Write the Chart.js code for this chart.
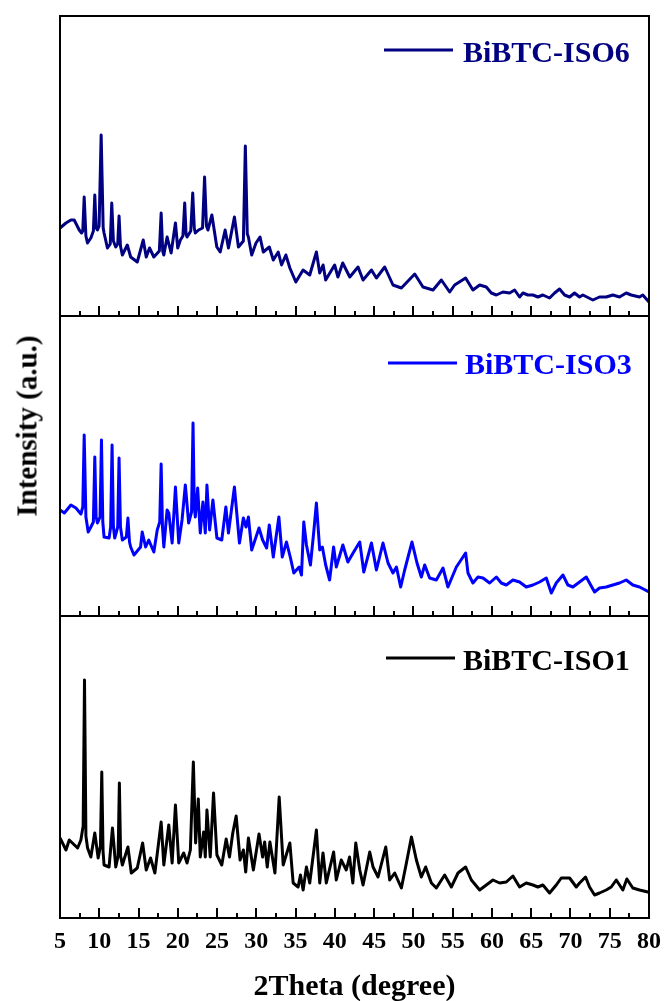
<!DOCTYPE html>
<html>
<head>
<meta charset="utf-8">
<script src="https://cdn.jsdelivr.net/npm/chart.js"></script>
<style>
  html, body { margin: 0; padding: 0; background: #ffffff; }
  #wrap { position: relative; width: 664px; height: 1001px; overflow: hidden; background: #ffffff; }
  .panel { position: absolute; left: 0; width: 664px; }
  #ytitle {
    position: absolute; left: 27px; top: 426px;
    transform: translate(-50%, -50%) rotate(-90deg);
    font: bold 29px "Liberation Serif", "Times New Roman", serif;
    white-space: nowrap; color: #000000; line-height: 1;
  }
</style>
</head>
<body>
<div id="wrap">
  <div class="panel" style="top:0px;height:320px"><canvas id="c1" width="664" height="320"></canvas></div>
  <div class="panel" style="top:312px;height:308px"><canvas id="c2" width="664" height="308"></canvas></div>
  <div class="panel" style="top:612px;height:389px"><canvas id="c3" width="664" height="389"></canvas></div>
  <div id="ytitle">Intensity (a.u.)</div>
</div>
<script>
// ---------------- DATA ----------------
const seriesLabels = ['BiBTC-ISO6', 'BiBTC-ISO3', 'BiBTC-ISO1'];
const xTickLabels = [5, 10, 15, 20, 25, 30, 35, 40, 45, 50, 55, 60, 65, 70, 75, 80];

// BiBTC-ISO6 (top panel)
const iso6Angle = [5.0,5.76,6.39,6.81,7.45,7.75,7.9,8.08,8.3,8.5,8.93,9.25,9.43,9.6,9.77,9.98,10.24,10.5,10.61,11.04,11.4,11.59,11.8,12.1,12.35,12.52,12.7,12.94,13.57,14.0,14.84,15.6,15.98,16.4,16.95,17.65,17.88,18.08,18.22,18.64,19.15,19.7,19.99,20.33,20.65,20.88,21.05,21.18,21.65,21.9,22.1,22.23,22.65,23.15,23.41,23.65,23.84,24.34,24.97,25.4,26.03,26.45,27.21,27.72,28.35,28.6,28.85,28.99,29.41,29.96,30.47,30.89,31.65,32.16,32.79,33.21,33.76,34.27,35.03,35.95,36.8,37.65,38.07,38.5,38.83,39.97,40.39,41.0,41.9,42.95,43.59,44.66,45.29,46.35,47.4,48.47,50.17,51.22,52.5,53.56,54.62,55.25,56.65,
  57.58,58.44,59.28,59.92,60.56,61.4,62.25,62.89,63.52,63.95,64.58,65.22,65.85,66.49,67.34,67.98,68.61,69.25,69.89,70.52,71.16,71.58,72.85,73.7,74.55,75.4,76.25,77.1,77.73,78.79,79.21,80.0];
const iso6Intensity = [88,93,96,96,86,83,85,119,80,73,78,85,121,88,86,90,181,88,83,68,72,113,75,69,72,100,70,61,71,59,54,76,59,68,59,65,103,65,61,79,63,93,68,76,80,113,82,79,85,123,88,83,86,88,139,90,86,101,69,64,86,68,99,69,75,170,82,79,61,73,79,64,69,56,64,51,61,48,34,46,41,64,43,51,36,51,39,53,39,49,36,46,38,49,31,28,42,29,26,36,24,31,38,
  26,31,29,23,21,24,23,26,19,23,21,21,19,21,18,23,27,21,19,23,19,21,16,19,19,21,19,23,21,19,21,14];

// BiBTC-ISO3 (middle panel)
const iso3Angle = [5.0,5.55,6.39,7.03,7.66,7.9,8.08,8.3,8.59,8.93,9.25,9.43,9.6,9.77,10.1,10.28,10.45,10.61,11.25,11.45,11.63,11.8,11.97,12.35,12.52,12.7,12.94,13.45,13.65,13.85,14.0,14.42,15.26,15.47,15.9,16.3,16.95,17.38,17.7,17.88,18.05,18.22,18.64,18.85,19.28,19.7,20.12,20.54,20.96,21.38,21.75,21.94,22.1,22.23,22.53,22.86,23.2,23.5,23.71,24.05,24.47,24.98,25.6,26.12,26.45,27.21,27.85,28.35,28.69,28.99,29.41,30.34,30.8,31.31,31.65,32.16,32.87,33.3,33.84,34.35,34.77,35.45,35.75,36.04,36.38,36.89,37.31,37.65,38.07,38.41,38.83,39.33,39.84,40.18,41.02,41.66,42.32,43.17,43.68,44.66,45.29,46.13,46.77,47.4,47.84,48.38,48.89,49.82,50.46,51.01,51.44,52.07,52.92,53.77,54.4,55.47,56.65,56.95,
  57.58,58.22,58.86,59.71,60.56,61.19,61.83,62.67,63.52,64.37,65.22,66.07,66.92,67.56,68.19,69.04,69.67,70.31,71.16,72.01,73.07,73.7,74.55,75.4,76.25,77.1,77.94,78.79,80.0];
const iso3Intensity = [107,104,112,109,103,110,182,100,85,90,95,160,100,94,100,177,95,80,79,90,172,90,79,90,159,90,77,80,99,75,70,62,70,85,70,77,65,87,95,153,90,70,107,104,74,130,74,97,132,94,105,194,110,100,129,84,115,84,132,87,117,79,77,110,84,130,74,99,90,100,67,89,77,69,92,60,100,60,75,59,44,50,42,95,72,52,85,114,67,70,52,37,70,50,72,55,64,75,45,74,47,74,54,44,50,30,47,75,54,40,52,39,37,49,30,50,64,44,
  34,40,39,34,40,34,32,37,35,30,32,35,39,24,34,42,32,30,35,40,25,29,30,32,34,37,32,30,25];

// BiBTC-ISO1 (bottom panel)
const iso1Angle = [5.0,5.76,6.18,7.24,7.66,7.95,8.12,8.3,8.51,8.93,9.43,9.86,10.15,10.32,10.48,10.61,11.25,11.68,12.1,12.4,12.56,12.72,12.94,13.65,14.08,14.84,15.52,15.98,16.53,17.08,17.88,18.22,18.85,19.28,19.7,20.12,20.75,21.18,21.6,21.98,22.27,22.61,22.86,23.29,23.5,23.71,24.13,24.55,24.98,25.6,26.16,26.58,27.0,27.43,27.93,28.35,28.65,28.99,29.62,30.34,30.8,31.06,31.39,31.73,32.37,32.91,33.42,34.27,34.69,35.32,35.62,35.96,36.38,36.8,37.65,38.07,38.49,38.91,39.84,40.18,40.81,41.45,41.87,42.29,42.66,43.17,43.59,44.44,44.86,45.5,46.48,46.98,47.62,48.47,49.11,49.75,50.38,51.01,51.56,52.29,52.92,53.98,54.83,55.68,56.65,57.38,58.44,
  60.13,60.98,61.83,62.67,63.52,64.37,65.22,65.85,66.49,67.34,68.19,68.83,69.89,70.74,71.16,71.92,72.43,73.07,73.7,74.55,75.19,75.83,76.67,77.18,77.94,78.79,79.85,80.0];
const iso1Intensity = [78,66,76,68,76,90,236,80,68,59,83,58,70,144,65,51,49,88,49,60,133,60,51,69,43,48,73,46,58,43,94,51,91,53,111,53,63,53,66,154,73,117,59,84,59,106,59,123,61,51,77,59,83,100,56,66,44,78,46,82,59,74,49,74,43,119,51,73,33,29,41,26,49,33,86,33,63,33,64,36,56,46,59,33,73,46,31,64,49,39,69,36,43,28,53,79,56,39,49,33,28,41,29,43,49,36,26,
  36,33,34,40,29,33,31,29,31,23,31,38,38,29,33,39,29,21,23,26,29,36,26,37,28,26,24,24];

// ---------------- RENDERING ----------------
const SERIF = '"Liberation Serif", "Times New Roman", serif';

const framePlugin = {
  id: 'panelFrame',
  afterDatasetsDraw(chart, args, opts) {
    const { ctx, chartArea: a } = chart;
    const x = chart.scales.x;
    ctx.save();
    // frame
    ctx.strokeStyle = '#000000';
    ctx.lineWidth = 2;
    ctx.strokeRect(a.left, a.top, a.right - a.left, a.bottom - a.top);
    // inward ticks on the bottom edge (major every 5, minor every 2.5)
    ctx.beginPath();
    for (let i = 0; i <= 30; i++) {
      const v = x.min + i * 2.5;
      const px = Math.round(x.getPixelForValue(v));
      const len = (i % 2 === 0) ? 10 : 5;
      ctx.moveTo(px, a.bottom);
      ctx.lineTo(px, a.bottom - len);
    }
    ctx.stroke();
    // legend entry inside the panel
    const ds = chart.data.datasets[0];
    ctx.strokeStyle = ds.borderColor;
    ctx.lineWidth = 3;
    ctx.beginPath();
    ctx.moveTo(opts.lineX1, a.top + opts.lineDy);
    ctx.lineTo(opts.lineX2, a.top + opts.lineDy);
    ctx.stroke();
    ctx.fillStyle = ds.borderColor;
    ctx.font = 'bold 30px ' + SERIF;
    ctx.textAlign = 'left';
    ctx.textBaseline = 'alphabetic';
    ctx.fillText(ds.label, opts.textX, a.top + opts.textDy);
    ctx.restore();
  }
};

function pairs(xs, ys) {
  return xs.map((v, i) => ({ x: v, y: ys[i] }));
}

function makePanel(canvasId, label, color, xs, ys, yMin, yMax, pad, legend, showX) {
  const xScale = {
    type: 'linear', min: 5, max: 80,
    display: showX,
    grid: { display: false, drawTicks: false },
    border: { display: false },
    ticks: {
      stepSize: 5, autoSkip: false, maxRotation: 0, minRotation: 0,
      color: '#000000', padding: 9,
      font: { family: SERIF, size: 24, weight: 'bold' },
      callback: (v) => xTickLabels.includes(v) ? String(v) : ''
    },
    title: {
      display: showX, text: '2Theta (degree)', color: '#000000',
      font: { family: SERIF, size: 30, weight: 'bold', lineHeight: 0.93 },
      padding: { top: 0, bottom: 0 }
    }
  };
  if (showX) {
    xScale.afterFit = (s) => { s.height = 83; s.paddingLeft = 0; s.paddingRight = 0; };
  }
  return new Chart(document.getElementById(canvasId), {
    type: 'line',
    data: {
      datasets: [{
        label: label,
        data: pairs(xs, ys),
        borderColor: color,
        backgroundColor: color,
        borderWidth: 3,
        pointRadius: 0,
        tension: 0,
        borderJoinStyle: 'round',
        fill: false
      }]
    },
    options: {
      responsive: false,
      animation: false,
      events: [],
      layout: { padding: pad },
      scales: {
        x: xScale,
        y: { display: false, min: yMin, max: yMax }
      },
      plugins: {
        legend: { display: false },
        tooltip: { enabled: false },
        panelFrame: legend
      }
    },
    plugins: [framePlugin]
  });
}

makePanel('c1', seriesLabels[0], '#000080', iso6Angle, iso6Intensity, 0, 300,
  { left: 60, right: 15, top: 16, bottom: 4 },
  { lineX1: 384, lineX2: 453, lineDy: 34, textX: 463, textDy: 46 }, false);

makePanel('c2', seriesLabels[1], '#0000ff', iso3Angle, iso3Intensity, 1, 301,
  { left: 60, right: 15, top: 4, bottom: 4 },
  { lineX1: 388, lineX2: 457, lineDy: 47, textX: 465, textDy: 58 }, false);

makePanel('c3', seriesLabels[2], '#000000', iso1Angle, iso1Intensity, -2, 300,
  { left: 60, right: 15, top: 4, bottom: 0 },
  { lineX1: 386, lineX2: 455, lineDy: 42, textX: 463, textDy: 54 }, true);
</script>
</body>
</html>
